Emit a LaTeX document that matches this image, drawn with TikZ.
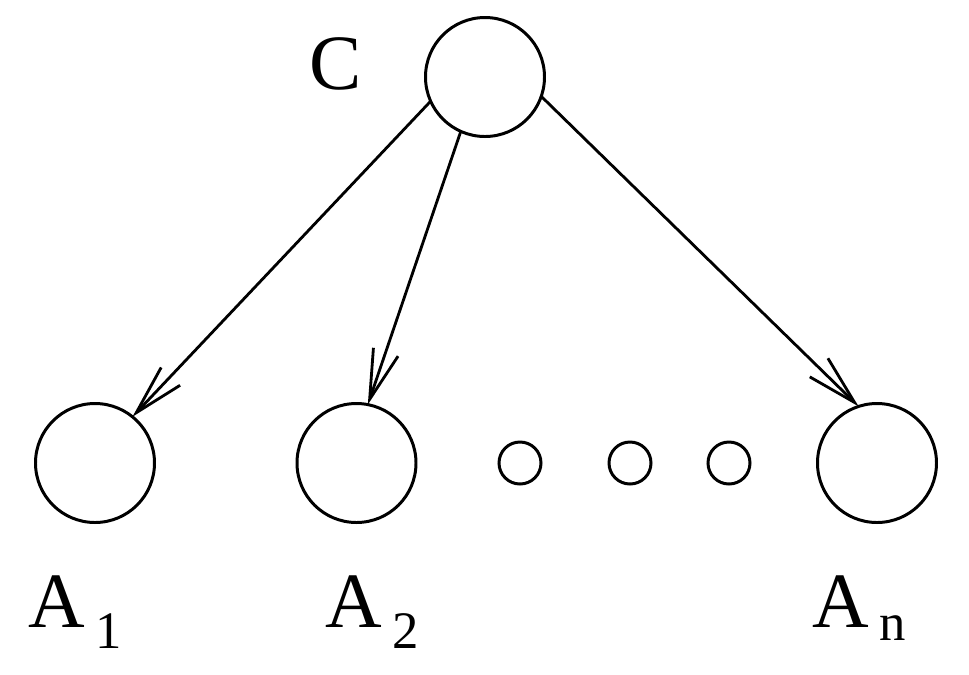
\documentclass[tikz,border=0pt]{standalone}
\usepackage{fontspec}
\setmainfont{Liberation Serif}
\usetikzlibrary{arrows.meta}
\newcommand{\alabel}[2]{A\hspace{3pt}\raisebox{-#2}{\fontsize{15}{18}\selectfont #1}}

\begin{document}
\begin{tikzpicture}[
    circ/.style={draw, circle, line width=0.85pt, inner sep=0pt, outer sep=0pt, minimum size=1.19cm},
    dot/.style={draw, circle, line width=0.85pt, inner sep=0pt, outer sep=0pt, minimum size=0.42cm},
    lbl/.style={inner sep=0pt, font=\fontsize{22.3}{26}\selectfont},
    arr/.style={line width=0.8pt, -{Straight Barb[length=5mm,width=2.6mm]}}]
            \useasboundingbox (0,0) rectangle (9.69,6.74);

            \node[circ] (C) at (4.85, 5.97) {};
            \node[lbl, anchor=base] (Clab) at (3.36, 5.85) {C};

            \node[circ] (A1) at (0.95, 2.11) {};
            \node[circ] (A2) at (3.565, 2.11) {};
            \node[circ] (An) at (8.77, 2.11) {};

            \node[dot] (d1) at (5.20, 2.11) {};
            \node[dot] (d2) at (6.30, 2.11) {};
            \node[dot] (d3) at (7.29, 2.11) {};

            \node[lbl, anchor=base west] (A1lab) at (0.28, 0.47) {\alabel{1}{6pt}};
            \node[lbl, anchor=base west] (A2lab) at (3.25, 0.47) {\alabel{2}{6pt}};
            \node[lbl, anchor=base west] (Anlab) at (8.12, 0.47) {\alabel{n}{3.7pt}};

            \draw[arr] (C.204) -- (A1.51) ;
            \draw[arr] (C.246.6) -- (A2.79) ;
            \draw[arr] (C.341.6) -- (An.108) ;
        \end{tikzpicture}
\end{document}
